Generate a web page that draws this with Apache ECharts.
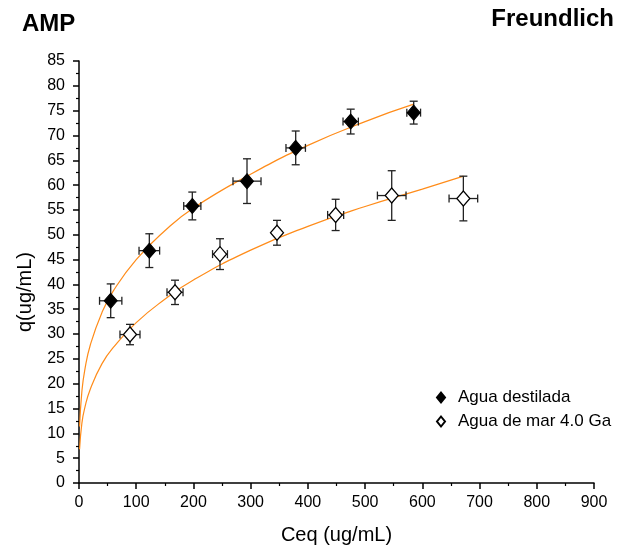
<!DOCTYPE html>
<html><head><meta charset="utf-8">
<script src="https://cdn.jsdelivr.net/npm/echarts@6/dist/echarts.min.js"></script>
<style>html,body{margin:0;padding:0;background:#fff}#c{width:619px;height:556px}</style>
</head><body><div id="c"></div>
<script>
// Measured data: [Ceq, q, Ceq error, q error]
const destCeq  = [55.4, 122.9, 198, 293.6, 378.7, 474.8, 584.9];
const destQ    = [36.7, 46.8, 55.8, 60.8, 67.5, 72.8, 74.6];
const destCerr = [19.5, 18, 15, 24.5, 17, 13.4, 12];
const destQerr = [3.4, 3.4, 2.8, 4.5, 3.4, 2.5, 2.3];

const marCeq  = [89.1, 167.8, 246.4, 346, 448.5, 546.5, 671.7];
const marQ    = [29.9, 38.4, 46.1, 50.4, 54.0, 57.9, 57.3];
const marCerr = [17.5, 14, 13, 5, 14, 25, 25];
const marQerr = [2.05, 2.45, 3.1, 2.5, 3.15, 5, 4.5];

// Freundlich fit curves
const fitDestC = [1, 5, 10, 20, 40, 60, 100, 150, 200, 300, 400, 500, 585];
const fitDestQ = [11.4, 18.4, 22.7, 27.9, 34.3, 38.7, 45.0, 50.8, 55.4, 62.2, 68.0, 72.8, 76.3];
const fitMarC  = [1, 5, 10, 20, 40, 60, 100, 150, 200, 300, 400, 500, 600, 672];
const fitMarQ  = [6.8, 12.0, 15.1, 19.0, 24.0, 27.3, 32.3, 37.0, 40.9, 46.9, 51.7, 55.7, 59.2, 61.8];

const xTicks = [0, 100, 200, 300, 400, 500, 600, 700, 800, 900];
const yTicks = [0,5,10,15,20,25,30,35,40,45,50,55,60,65,70,75,80,85];

const zip = (a, b) => a.map((v, i) => [v, b[i]]);
const zip4 = (a, b, c, d) => a.map((v, i) => [v, b[i], c[i], d[i]]);

function errRender(params, api) {
  const x = api.value(0), y = api.value(1), ex = api.value(2), ey = api.value(3);
  const t = api.coord([x, y + ey]), b = api.coord([x, y - ey]);
  const l = api.coord([x - ex, y]), r = api.coord([x + ex, y]);
  const cap = 4;
  const st = {stroke: '#222', lineWidth: 1.3};
  const mk = (x1, y1, x2, y2) => ({type: 'line', shape: {x1, y1, x2, y2}, style: st});
  return {type: 'group', children: [
    mk(t[0], t[1], b[0], b[1]),
    mk(t[0]-cap, t[1], t[0]+cap, t[1]),
    mk(b[0]-cap, b[1], b[0]+cap, b[1]),
    mk(l[0], l[1], r[0], r[1]),
    mk(l[0], l[1]-cap, l[0], l[1]+cap),
    mk(r[0], r[1]-cap, r[0], r[1]+cap)
  ]};
}

const font = 'Liberation Sans, Arial, sans-serif';
const chart = echarts.init(document.getElementById('c'));
chart.setOption({
  animation: false,
  backgroundColor: '#fff',
  title: [
    {text: 'AMP', left: 17, top: 7, textStyle: {fontFamily: font, fontSize: 24, fontWeight: 'bold', color: '#000'}},
    {text: 'Freundlich', right: 0, top: 2, textStyle: {fontFamily: font, fontSize: 24, fontWeight: 'bold', color: '#000'}}
  ],
  grid: {left: 79, right: 25, top: 61, bottom: 73},
  legend: {
    orient: 'vertical', left: 431, top: 384, itemGap: 7, itemWidth: 8, itemHeight: 10,
    textStyle: {fontFamily: font, fontSize: 17, color: '#000', padding: [0, 0, 0, 8]},
    data: [
      {name: 'Agua destilada', icon: 'diamond'},
      {name: 'Agua de mar 4.0 Ga', icon: 'diamond'}
    ]
  },
  xAxis: {
    type: 'value', min: 0, max: 900, interval: 100,
    name: 'Ceq (ug/mL)', nameLocation: 'middle', nameGap: 42,
    nameTextStyle: {fontFamily: font, fontSize: 20, color: '#000'},
    axisLine: {lineStyle: {color: '#000', width: 1.5}},
    axisTick: {show: true, length: 6, lineStyle: {color: '#000', width: 1.5}},
    minorTick: {show: true, splitNumber: 2, length: 3, lineStyle: {color: '#000', width: 1.2}},
    splitLine: {show: false},
    axisLabel: {fontFamily: font, fontSize: 16, color: '#000', margin: 12,
      formatter: v => xTicks.includes(v) ? String(v) : ''}
  },
  yAxis: {
    type: 'value', min: 0, max: 85, interval: 5,
    name: 'q(ug/mL)', nameLocation: 'middle', nameGap: 44, nameRotate: 90,
    nameTextStyle: {fontFamily: font, fontSize: 20, color: '#000', padding: [0, 40, 0, 0]},
    axisLine: {show: true, lineStyle: {color: '#000', width: 1.5}},
    axisTick: {show: true, length: 6, lineStyle: {color: '#000', width: 1.5}},
    minorTick: {show: true, splitNumber: 2, length: 3, lineStyle: {color: '#000', width: 1.2}},
    splitLine: {show: false},
    axisLabel: {fontFamily: font, fontSize: 16, color: '#000', margin: 14,
      formatter: v => yTicks.includes(v) ? String(v) : ''}
  },
  series: [
    {type: 'line', data: zip(fitDestC, fitDestQ), smooth: true, showSymbol: false, symbol: 'none',
     lineStyle: {color: '#FF8C1A', width: 1.2}, z: 2, silent: true},
    {type: 'line', data: zip(fitMarC, fitMarQ), smooth: true, showSymbol: false, symbol: 'none',
     lineStyle: {color: '#FF8C1A', width: 1.2}, z: 2, silent: true},
    {type: 'custom', renderItem: errRender, data: zip4(destCeq, destQ, destCerr, destQerr), z: 3, silent: true},
    {type: 'custom', renderItem: errRender, data: zip4(marCeq, marQ, marCerr, marQerr), z: 3, silent: true},
    {name: 'Agua destilada', type: 'scatter', symbol: 'diamond', symbolSize: [13, 15],
     data: zip(destCeq, destQ), itemStyle: {color: '#000', borderColor: '#000', borderWidth: 1, opacity: 1}, z: 5},
    {name: 'Agua de mar 4.0 Ga', type: 'scatter', symbol: 'diamond', symbolSize: [13, 15],
     data: zip(marCeq, marQ), itemStyle: {color: '#fff', borderColor: '#000', borderWidth: 1.3, opacity: 1}, z: 5}
  ]
});
</script></body></html>
